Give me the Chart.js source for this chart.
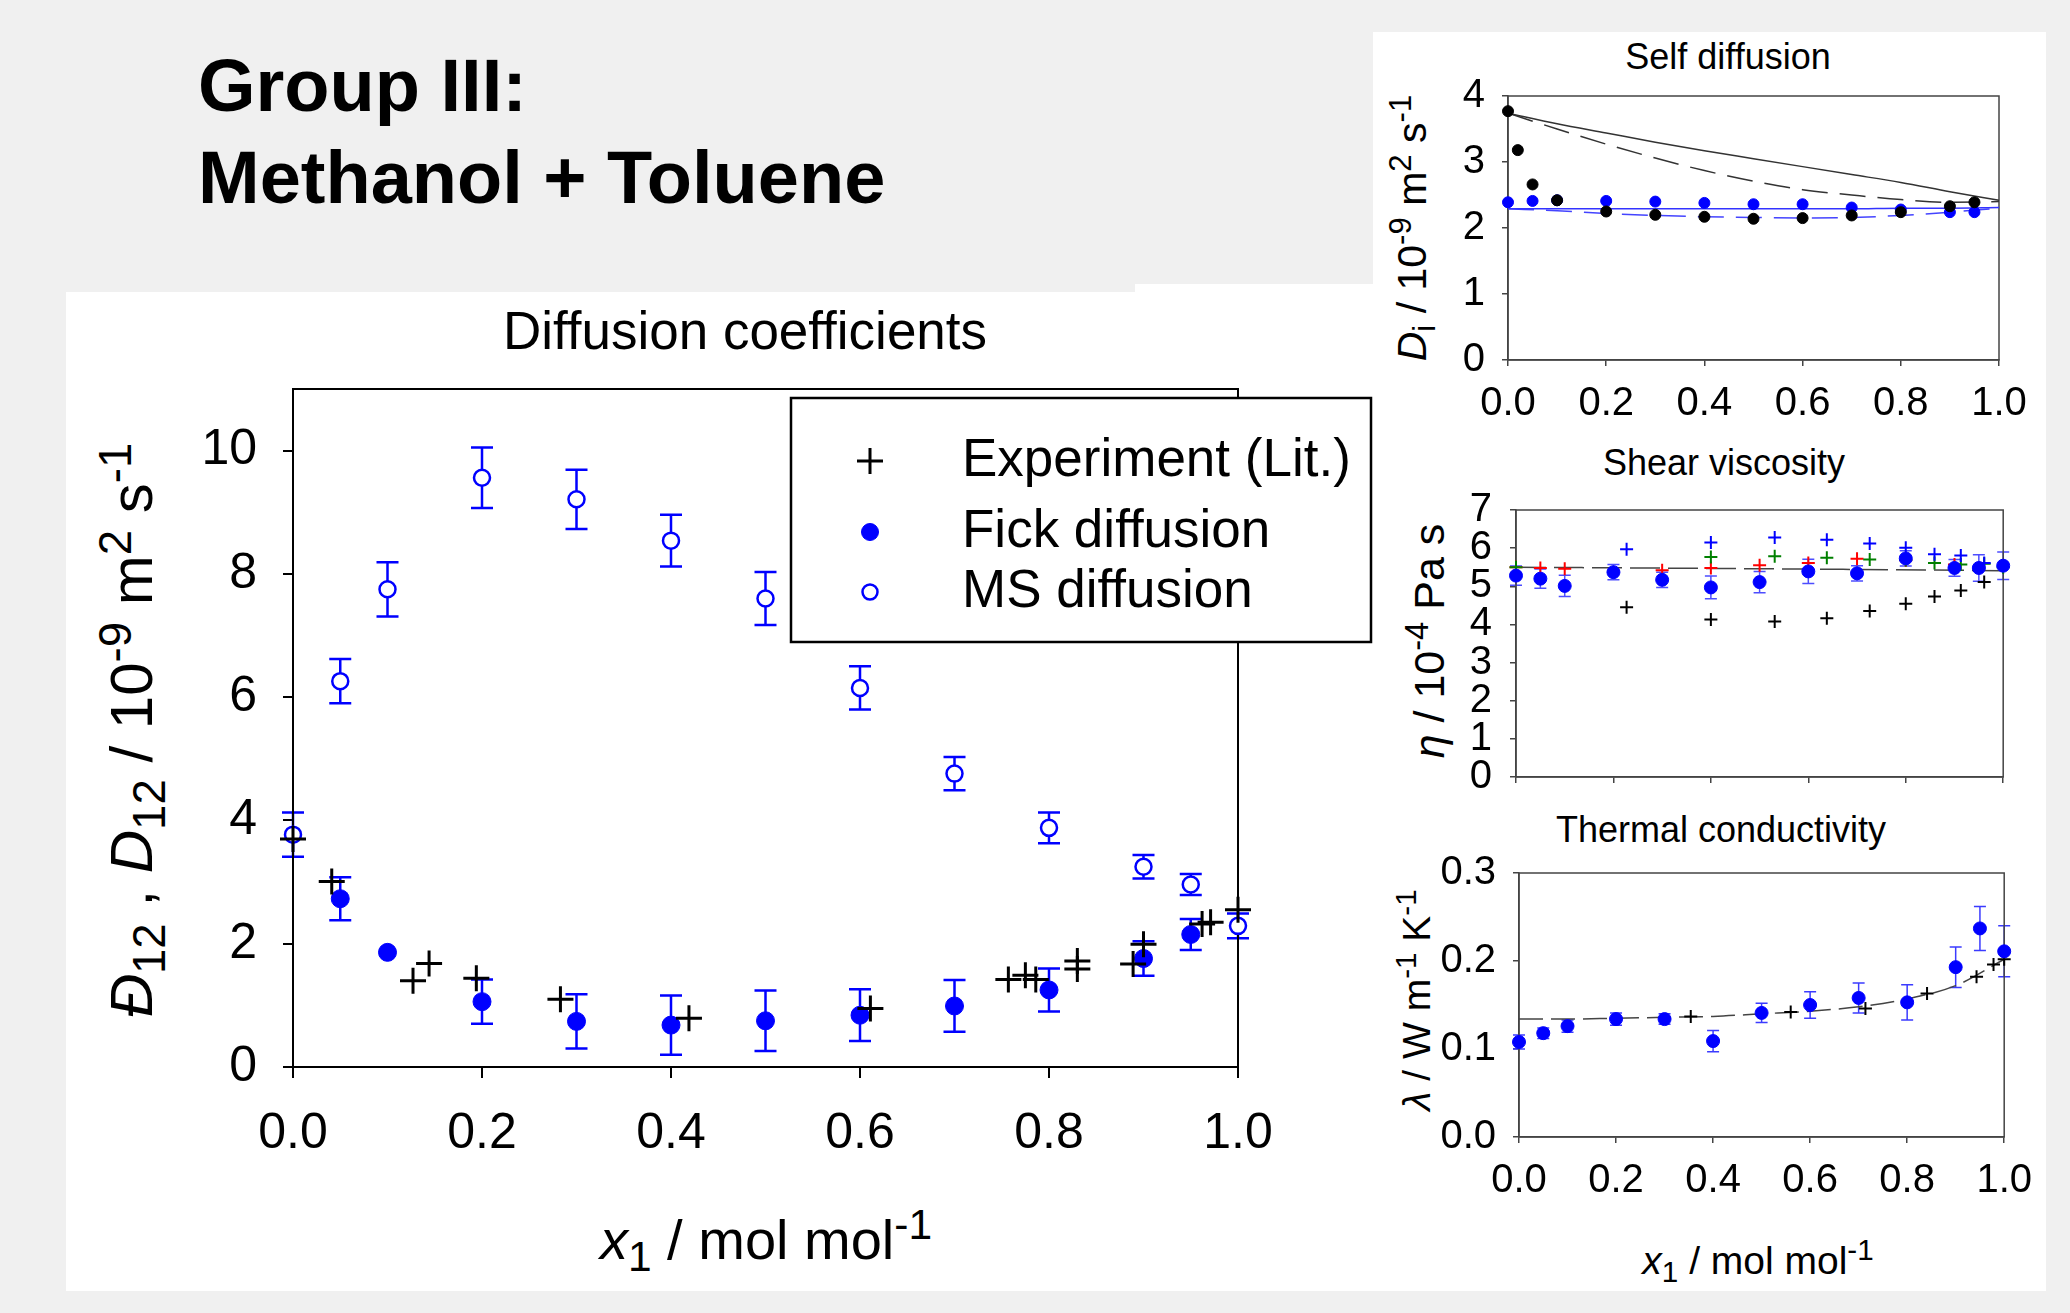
<!DOCTYPE html>
<html>
<head>
<meta charset="utf-8">
<script src="https://cdn.jsdelivr.net/npm/chart.js@4.4.0/dist/chart.umd.min.js"></script>
<style>
body { margin: 0; width: 2070px; height: 1313px; background: #f0f0f0; position: relative; overflow: hidden;
       font-family: "Liberation Sans", Arial, sans-serif; color: #000; }
.panel { position: absolute; background: #fff; }
canvas { position: absolute; }
.txt { position: absolute; white-space: nowrap; line-height: 1; }
.c { transform: translate(-50%, -50%); }
.rot { transform: translate(-50%, -50%) rotate(-90deg); }
sub, sup { font-size: 76%; line-height: 0; }
</style>
</head>
<body>
<div class="panel" style="left:66px; top:292px; width:1307px; height:999px;"></div>
<div class="panel" style="left:1135px; top:284px; width:238px; height:10px;"></div>
<div class="panel" style="left:1373px; top:32px; width:673px; height:1259px;"></div>

<div class="txt" style="left:198px; top:49px; font-size:74px; font-weight:bold;">Group III:</div>
<div class="txt" style="left:198px; top:141px; font-size:74px; font-weight:bold;">Methanol + Toluene</div>

<!-- main chart texts -->
<div class="txt c" style="left:745px; top:330px; font-size:53px;">Diffusion coefficients</div>
<div class="txt rot" style="left:132px; top:730px; font-size:60px;"><i>Đ</i><sub>12</sub> , <i>D</i><sub>12</sub> / 10<sup>-9</sup> m<sup>2</sup> s<sup>-1</sup></div>
<div class="txt c" style="left:766px; top:1240px; font-size:56px;"><i>x</i><sub>1</sub> / mol mol<sup>-1</sup></div>

<!-- small chart texts -->
<div class="txt c" style="left:1728px; top:57px; font-size:36px;">Self diffusion</div>
<div class="txt rot" style="left:1412px; top:228px; font-size:41px;"><i>D</i><sub>i</sub> / 10<sup>-9</sup> m<sup>2</sup> s<sup>-1</sup></div>
<div class="txt c" style="left:1724px; top:463px; font-size:36px;">Shear viscosity</div>
<div class="txt rot" style="left:1429px; top:641px; font-size:43px;"><i>η</i> / 10<sup>-4</sup> Pa s</div>
<div class="txt c" style="left:1721px; top:830px; font-size:36px;">Thermal conductivity</div>
<div class="txt rot" style="left:1416px; top:1000px; font-size:39px;"><i>λ</i> / W m<sup>-1</sup> K<sup>-1</sup></div>
<div class="txt c" style="left:1758px; top:1260px; font-size:39px;"><i>x</i><sub>1</sub> / mol mol<sup>-1</sup></div>

<canvas id="mainChart" width="1307" height="1001" style="left:66px; top:290px;"></canvas>
<canvas id="selfChart" width="673" height="400" style="left:1373px; top:32px;"></canvas>
<canvas id="viscChart" width="673" height="380" style="left:1373px; top:440px;"></canvas>
<canvas id="thermChart" width="673" height="471" style="left:1373px; top:820px;"></canvas>

<script>
const FONT = '"Liberation Sans", Arial, sans-serif';
Chart.defaults.font.family = FONT;
Chart.defaults.color = '#000';
const BLUE = '#0000ff';

// Diffusion coefficients (main chart)
const mainX = [0, 0.05, 0.1, 0.2, 0.3, 0.4, 0.5, 0.6, 0.7, 0.8, 0.9, 0.95, 1.0];
const msValues = [3.77, 6.26, 7.75, 9.56, 9.21, 8.54, 7.60, 6.15, 4.76, 3.88, 3.25, 2.96, 2.29];
const msErrors = [0.36, 0.36, 0.44, 0.49, 0.48, 0.42, 0.43, 0.35, 0.27, 0.25, 0.19, 0.17, 0.20];
const fickX = [0.05, 0.1, 0.2, 0.3, 0.4, 0.5, 0.6, 0.7, 0.8, 0.9, 0.95];
const fickValues = [2.73, 1.86, 1.06, 0.74, 0.68, 0.75, 0.84, 0.99, 1.25, 1.76, 2.15];
const fickErrors = [0.35, 0, 0.36, 0.44, 0.48, 0.49, 0.42, 0.42, 0.35, 0.28, 0.25];
const expX = [0, 0.041, 0.127, 0.144, 0.194, 0.283, 0.419, 0.611, 0.757, 0.775, 0.786, 0.83, 0.83, 0.889, 0.9, 0.962, 0.971, 1.0];
const expValues = [3.70, 3.01, 1.40, 1.68, 1.44, 1.10, 0.79, 0.95, 1.42, 1.49, 1.42, 1.59, 1.72, 1.67, 1.99, 2.32, 2.35, 2.55];

// Self diffusion
const selfBlackX = [0, 0.02, 0.05, 0.1, 0.2, 0.3, 0.4, 0.5, 0.6, 0.7, 0.8, 0.9, 0.95];
const selfBlackValues = [3.77, 3.18, 2.66, 2.42, 2.25, 2.20, 2.17, 2.14, 2.15, 2.19, 2.24, 2.33, 2.39];
const selfBlueX = [0, 0.05, 0.1, 0.2, 0.3, 0.4, 0.5, 0.6, 0.7, 0.8, 0.9, 0.95];
const selfBlueValues = [2.39, 2.41, 2.42, 2.41, 2.40, 2.38, 2.36, 2.36, 2.31, 2.28, 2.24, 2.24];
const curveX = [0, 0.1, 0.2, 0.3, 0.4, 0.5, 0.6, 0.7, 0.8, 0.9, 1.0];
const selfBlackSolid = [3.74, 3.58, 3.44, 3.30, 3.17, 3.05, 2.93, 2.81, 2.69, 2.55, 2.42];
const selfBlackDashed = [3.74, 3.50, 3.27, 3.06, 2.87, 2.71, 2.58, 2.50, 2.43, 2.39, 2.40];
const selfBlueSolid = [2.29, 2.29, 2.29, 2.29, 2.29, 2.29, 2.29, 2.29, 2.30, 2.30, 2.31];
const selfBlueDashed = [2.29, 2.26, 2.22, 2.19, 2.17, 2.16, 2.15, 2.16, 2.19, 2.24, 2.30];

// Shear viscosity
const viscX = [0, 0.05, 0.1, 0.2, 0.3, 0.4, 0.5, 0.6, 0.7, 0.8, 0.9, 0.95, 1.0];
const viscValues = [5.28, 5.20, 5.01, 5.37, 5.17, 4.97, 5.11, 5.39, 5.34, 5.73, 5.48, 5.48, 5.54];
const viscErrors = [0.25, 0.25, 0.28, 0.20, 0.20, 0.30, 0.28, 0.32, 0.20, 0.20, 0.22, 0.35, 0.36];
const viscLitX = [0.227, 0.4, 0.531, 0.638, 0.726, 0.8, 0.859, 0.913, 0.961];
const viscBlackValues = [4.45, 4.13, 4.08, 4.16, 4.35, 4.54, 4.73, 4.89, 5.11];
const viscBlueValues = [5.97, 6.15, 6.28, 6.22, 6.12, 6.01, 5.84, 5.81, 5.61];
const viscGreenX = [0, 0.4, 0.531, 0.638, 0.726, 0.8, 0.859, 0.913, 0.961, 1.0];
const viscGreenValues = [5.50, 5.77, 5.79, 5.75, 5.70, 5.69, 5.61, 5.57, 5.59, 5.50];
const viscRedX = [0, 0.05, 0.1, 0.3, 0.4, 0.5, 0.6, 0.7, 0.8, 0.9];
const viscRedValues = [5.50, 5.48, 5.46, 5.42, 5.48, 5.55, 5.61, 5.72, 5.68, 5.57];
const viscLineX = [0, 0.5, 1.0];
const viscLineValues = [5.50, 5.46, 5.41];

// Thermal conductivity
const thermX = [0, 0.05, 0.1, 0.2, 0.3, 0.4, 0.5, 0.6, 0.7, 0.8, 0.9, 0.95, 1.0];
const thermValues = [0.108, 0.118, 0.126, 0.134, 0.134, 0.109, 0.141, 0.150, 0.158, 0.153, 0.193, 0.237, 0.211];
const thermErrors = [0.008, 0.006, 0.007, 0.007, 0.006, 0.012, 0.011, 0.015, 0.017, 0.020, 0.023, 0.025, 0.029];
const thermLitX = [0.354, 0.56, 0.714, 0.841, 0.943, 0.978, 1.0];
const thermLitValues = [0.137, 0.142, 0.146, 0.163, 0.182, 0.196, 0.202];
const thermCurve = [0.134, 0.134, 0.135, 0.136, 0.137, 0.140, 0.143, 0.148, 0.157, 0.172, 0.202];

const toPoints = (xs, ys) => xs.map((x, i) => ({ x: x, y: ys[i] }));

// Fehlerbalken über die Skalen des Diagramms
const errorBars = {
    id: 'errorBars',
    beforeDatasetsDraw(chart) {
        const ctx = chart.ctx;
        const sx = chart.scales.x, sy = chart.scales.y;
        chart.data.datasets.forEach((ds) => {
            if (!ds.errors) return;
            ctx.save();
            ctx.strokeStyle = ds.errorColor;
            ctx.lineWidth = ds.errorWidth;
            const half = ds.capWidth / 2;
            ds.data.forEach((p, j) => {
                const e = ds.errors[j];
                if (!e) return;
                const px = sx.getPixelForValue(p.x);
                const top = sy.getPixelForValue(p.y + e);
                const bot = sy.getPixelForValue(p.y - e);
                ctx.beginPath();
                ctx.moveTo(px, top); ctx.lineTo(px, bot);
                ctx.moveTo(px - half, top); ctx.lineTo(px + half, top);
                ctx.moveTo(px - half, bot); ctx.lineTo(px + half, bot);
                ctx.stroke();
            });
            ctx.restore();
        });
    }
};

// Rahmen um die Zeichenfläche
const frame = {
    id: 'frame',
    beforeDatasetsDraw(chart, args, opts) {
        const a = chart.chartArea;
        const ctx = chart.ctx;
        ctx.save();
        ctx.strokeStyle = opts.color;
        ctx.lineWidth = opts.width;
        ctx.strokeRect(a.left, a.top, a.right - a.left, a.bottom - a.top);
        ctx.restore();
    }
};

function drawMarker(ctx, ds, x, y, r) {
    ctx.save();
    ctx.lineWidth = ds.pointBorderWidth;
    ctx.strokeStyle = ds.borderColor;
    ctx.fillStyle = ds.backgroundColor;
    ctx.beginPath();
    if (ds.pointStyle === 'cross') {
        ctx.moveTo(x - r, y); ctx.lineTo(x + r, y);
        ctx.moveTo(x, y - r); ctx.lineTo(x, y + r);
        ctx.stroke();
    } else {
        ctx.arc(x, y, r, 0, Math.PI * 2);
        ctx.fill();
        ctx.stroke();
    }
    ctx.restore();
}

// Legende mit Rahmen
const boxLegend = {
    id: 'boxLegend',
    afterDraw(chart, args, opts) {
        const ctx = chart.ctx;
        ctx.save();
        ctx.fillStyle = '#fff';
        ctx.fillRect(opts.x, opts.y, opts.w, opts.h);
        ctx.strokeStyle = '#000';
        ctx.lineWidth = 2.5;
        ctx.strokeRect(opts.x, opts.y, opts.w, opts.h);
        ctx.font = opts.font;
        ctx.textBaseline = 'middle';
        ctx.fillStyle = '#000';
        chart.data.datasets.forEach((ds, i) => {
            drawMarker(ctx, ds, opts.markerX, opts.rows[i], opts.radii[i]);
            ctx.fillStyle = '#000';
            ctx.fillText(ds.label, opts.textX, opts.rows[i]);
        });
        ctx.restore();
    }
};

function axis(cfg) {
    return {
        type: 'linear',
        min: cfg.min,
        max: cfg.max,
        grid: { drawOnChartArea: false, drawTicks: true, tickLength: cfg.tickLength, color: cfg.color, lineWidth: cfg.lineWidth },
        border: { display: true, color: cfg.color, width: cfg.lineWidth },
        ticks: {
            stepSize: cfg.step,
            includeBounds: false,
            autoSkip: false,
            maxRotation: 0,
            padding: cfg.padding,
            color: cfg.hideLabels ? 'rgba(0,0,0,0)' : '#000',
            font: { size: cfg.fontSize, family: FONT },
            callback: v => v.toFixed(cfg.decimals)
        },
        afterFit: s => { if (cfg.isX) s.height = cfg.size; else s.width = cfg.size; }
    };
}

function baseOptions(padding, xAxis, yAxis, frameOpts, extraPlugins) {
    return {
        responsive: false,
        animation: false,
        events: [],
        layout: { padding: padding },
        scales: { x: xAxis, y: yAxis },
        plugins: Object.assign({
            legend: { display: false },
            tooltip: { enabled: false },
            frame: frameOpts
        }, extraPlugins || {})
    };
}

function points(label, xs, ys, style, radius, color, fill, width, extra) {
    return Object.assign({
        label: label,
        data: toPoints(xs, ys),
        pointStyle: style,
        pointRadius: radius,
        borderColor: color,
        backgroundColor: fill,
        pointBorderWidth: width,
        showLine: false,
        clip: false
    }, extra || {});
}

function curve(xs, ys, color, width, dash) {
    return {
        data: toPoints(xs, ys),
        showLine: true,
        pointRadius: 0,
        borderColor: color,
        borderWidth: width,
        borderDash: dash,
        cubicInterpolationMode: 'monotone',
        clip: false
    };
}

// Hauptdiagramm: Diffusionskoeffizienten
new Chart(document.getElementById('mainChart'), {
    type: 'scatter',
    data: {
        datasets: [
            points('Experiment (Lit.)', expX, expValues, 'cross', 13, '#000', '#000', 3),
            points('Fick diffusion', fickX, fickValues, 'circle', 9, BLUE, BLUE, 1,
                { errors: fickErrors, errorColor: BLUE, errorWidth: 2.5, capWidth: 22 }),
            points('MS diffusion', mainX, msValues, 'circle', 8, BLUE, '#fff', 2.5,
                { errors: msErrors, errorColor: BLUE, errorWidth: 2.5, capWidth: 22 })
        ]
    },
    options: baseOptions(
        { left: 0, top: 99, right: 135, bottom: 0 },
        axis({ isX: true, min: 0, max: 1, step: 0.2, decimals: 1, fontSize: 50, padding: 26, tickLength: 11, color: '#000', lineWidth: 2, size: 224 }),
        axis({ min: 0, max: 11, step: 2, decimals: 0, fontSize: 50, padding: 26, tickLength: 10, color: '#000', lineWidth: 2, size: 227 }),
        { color: '#000', width: 2 },
        { boxLegend: { x: 725, y: 108, w: 580, h: 244, markerX: 804, textX: 896, rows: [171, 242, 302], radii: [13, 8.5, 7.5], font: '53px ' + FONT } }
    ),
    plugins: [errorBars, frame, boxLegend]
});

// Selbstdiffusion
new Chart(document.getElementById('selfChart'), {
    type: 'scatter',
    data: {
        datasets: [
            points('Methanol', selfBlackX, selfBlackValues, 'circle', 5.5, '#000', '#000', 1),
            points('Toluene', selfBlueX, selfBlueValues, 'circle', 5.5, BLUE, BLUE, 1),
            curve(curveX, selfBlackSolid, '#333', 1.5, []),
            curve(curveX, selfBlackDashed, '#333', 1.5, [26, 12]),
            curve(curveX, selfBlueSolid, '#3333ff', 1.5, []),
            curve(curveX, selfBlueDashed, '#4444ff', 1.5, [26, 12])
        ]
    },
    options: baseOptions(
        { left: 0, top: 64, right: 47, bottom: 0 },
        axis({ isX: true, min: 0, max: 1, step: 0.2, decimals: 1, fontSize: 40, padding: 14, tickLength: 6, color: '#444', lineWidth: 1.5, size: 72 }),
        axis({ min: 0, max: 4, step: 1, decimals: 0, fontSize: 40, padding: 17, tickLength: 6, color: '#444', lineWidth: 1.5, size: 135 }),
        { color: '#444', width: 1.5 }
    ),
    plugins: [frame]
});

// Scherviskosität
new Chart(document.getElementById('viscChart'), {
    type: 'scatter',
    data: {
        datasets: [
            points('Simulation', viscX, viscValues, 'circle', 6.5, BLUE, BLUE, 1,
                { errors: viscErrors, errorColor: '#4d4dff', errorWidth: 1.5, capWidth: 12 }),
            points('Lit. 1', viscLitX, viscBlackValues, 'cross', 6.5, '#000', '#000', 2),
            points('Lit. 2', viscLitX, viscBlueValues, 'cross', 6.5, BLUE, BLUE, 2),
            points('Lit. 3', viscGreenX, viscGreenValues, 'cross', 6.5, '#008000', '#008000', 2),
            points('Lit. 4', viscRedX, viscRedValues, 'cross', 6.5, '#ff0000', '#ff0000', 2),
            curve(viscLineX, viscLineValues, '#444', 1.5, [30, 8])
        ]
    },
    options: baseOptions(
        { left: 0, top: 70, right: 38, bottom: 0 },
        axis({ isX: true, min: 0, max: 1, step: 0.2, decimals: 1, fontSize: 40, padding: 15, tickLength: 6, color: '#444', lineWidth: 1.5, size: 43, hideLabels: true }),
        axis({ min: 0, max: 7, step: 1, decimals: 0, fontSize: 40, padding: 18, tickLength: 6, color: '#444', lineWidth: 1.5, size: 143 }),
        { color: '#444', width: 1.5 }
    ),
    plugins: [errorBars, frame]
});

// Wärmeleitfähigkeit
new Chart(document.getElementById('thermChart'), {
    type: 'scatter',
    data: {
        datasets: [
            points('Simulation', thermX, thermValues, 'circle', 6.5, BLUE, BLUE, 1,
                { errors: thermErrors, errorColor: '#3b3bff', errorWidth: 1.5, capWidth: 12 }),
            points('Experiment', thermLitX, thermLitValues, 'cross', 6.5, '#000', '#000', 2),
            curve(curveX, thermCurve, '#444', 1.5, [24, 8])
        ]
    },
    options: baseOptions(
        { left: 0, top: 53, right: 35, bottom: 0 },
        axis({ isX: true, min: 0, max: 1, step: 0.2, decimals: 1, fontSize: 40, padding: 14, tickLength: 6, color: '#444', lineWidth: 1.5, size: 154 }),
        axis({ min: 0, max: 0.3, step: 0.1, decimals: 1, fontSize: 40, padding: 17, tickLength: 6, color: '#444', lineWidth: 1.5, size: 146 }),
        { color: '#444', width: 1.5 }
    ),
    plugins: [errorBars, frame]
});
</script>
</body>
</html>
